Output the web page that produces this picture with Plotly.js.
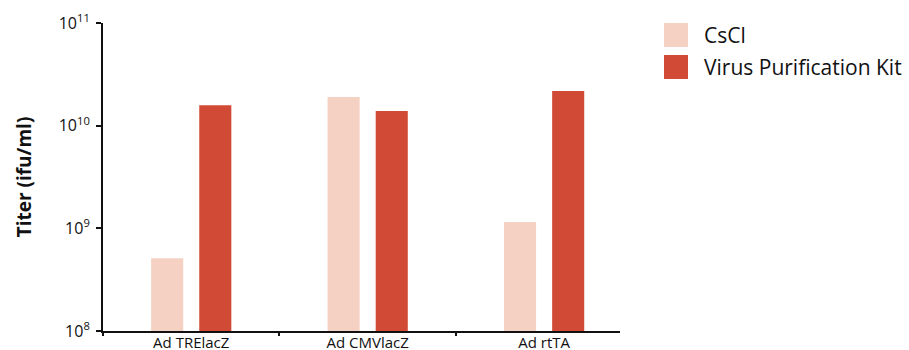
<!DOCTYPE html>
<html>
<head>
<meta charset="utf-8">
<script src="https://cdn.plot.ly/plotly-3.0.1.min.js"></script>
<style>html,body{margin:0;padding:0;background:#fff;}#chart{width:909px;height:350px;}</style>
</head>
<body>
<div id="chart"></div>
<script>
const categories = ['Ad TRElacZ', 'Ad CMVlacZ', 'Ad rtTA'];
const seriesNames = ['CsCl', 'Virus Purification Kit'];
const cscl = [5.1e8, 1.9e10, 1.15e9];
const kit = [1.58e10, 1.39e10, 2.17e10];
const yTickVals = [1e8, 1e9, 1e10, 1e11];
const yTickText = ['10<sup>8</sup>', '10<sup>9</sup>', '10<sup>10</sup>', '10<sup>11</sup>'];
const colors = ['#f4d1c3', '#d14a35'];

const FONT = 'Open Sans, sans-serif';

const traces = [
  {type: 'bar', name: seriesNames[0], x: categories, y: cscl, marker: {color: colors[0]}, showlegend: false, hoverinfo: 'x+y'},
  {type: 'bar', name: seriesNames[1], x: categories, y: kit, marker: {color: colors[1]}, showlegend: false, hoverinfo: 'x+y'}
];

// Custom legend (large swatches as in reference)
const legendTop = [23, 55];
const shapes = seriesNames.map((n, i) => ({
  type: 'rect', xref: 'paper', yref: 'paper',
  x0: (664 - 103) / 517, x1: (688 - 103) / 517,
  y0: (331 - legendTop[i] - 24) / 308, y1: (331 - legendTop[i]) / 308,
  fillcolor: colors[i], line: {width: 0}
}));
const annotations = seriesNames.map((n, i) => ({
  xref: 'paper', yref: 'paper', text: n, showarrow: false,
  x: (702 - 103) / 517, y: (331 - legendTop[i] - 12) / 308,
  xanchor: 'left', yanchor: 'middle',
  font: {family: FONT, size: 21, color: '#111'}
}));

const layout = {
  width: 909, height: 350,
  margin: {l: 103, r: 289, t: 23, b: 19},
  paper_bgcolor: '#fff', plot_bgcolor: '#fff',
  barmode: 'group', bargap: 0.4545, bargroupgap: 0.3333,
  showlegend: false,
  font: {family: FONT, color: '#111'},
  xaxis: {
    type: 'category', range: [-0.5, 2.43],
    showline: true, linecolor: '#111', linewidth: 2,
    ticks: 'outside', tickson: 'boundaries', ticklen: 3, tickwidth: 2, tickcolor: '#111',
    ticklabelstandoff: -3,
    showgrid: false, zeroline: false,
    tickfont: {family: FONT, size: 15, color: '#111'},
    fixedrange: true
  },
  yaxis: {
    type: 'log', range: [8, 11],
    tickvals: yTickVals, ticktext: yTickText,
    showline: true, linecolor: '#111', linewidth: 2,
    ticks: 'outside', ticklen: 5, tickwidth: 2, tickcolor: '#111',
    ticklabelstandoff: 3,
    showgrid: false, zeroline: false,
    tickfont: {family: FONT, size: 16, color: '#111'},
    title: {text: '<b>Titer (ifu/ml)</b>', font: {family: FONT, size: 19, color: '#111'}, standoff: 22},
    fixedrange: true
  },
  shapes: shapes,
  annotations: annotations
};

Plotly.newPlot('chart', traces, layout, {displayModeBar: false, staticPlot: true});
</script>
</body>
</html>
